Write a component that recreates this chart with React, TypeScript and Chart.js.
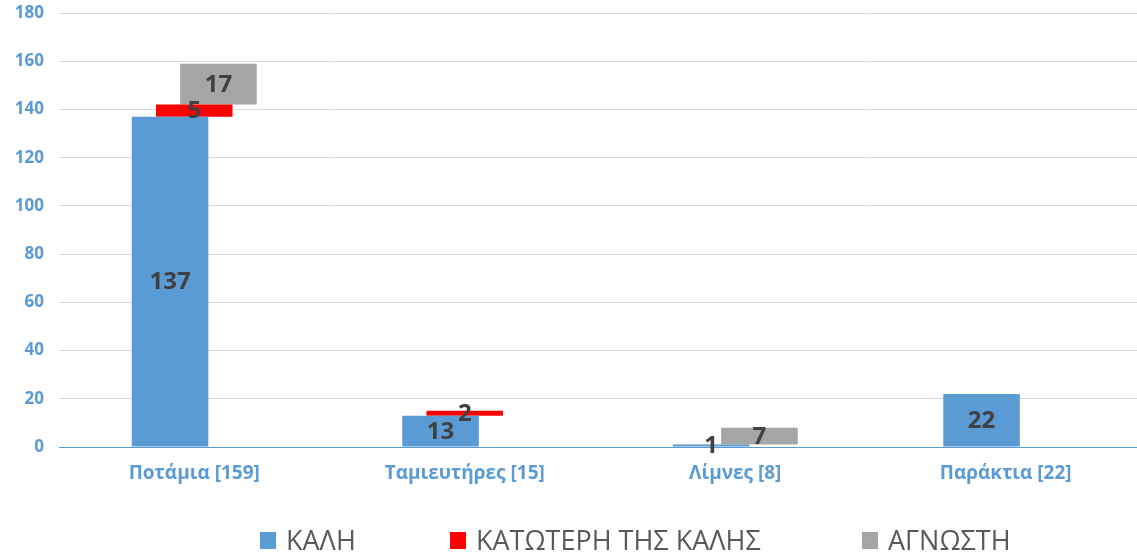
import React, { useEffect, useRef } from "react";
import { Chart, registerables } from "chart.js";

Chart.register(...registerables);

const categories = ["Ποτάμια [159]", "Ταμιευτήρες [15]", "Λίμνες [8]", "Παράκτια [22]"];
const seriesNames = ["ΚΑΛΗ", "ΚΑΤΩΤΕΡΗ ΤΗΣ ΚΑΛΗΣ", "ΑΓΝΩΣΤΗ"];
const kali = [137, 13, 1, 22];
const katoteri = [5, 2, 0, 0];
const agnosti = [17, 0, 7, 0];
const yTicks = [0, 20, 40, 60, 80, 100, 120, 140, 160, 180];

const COLORS = ["#5B9BD5", "#FF0000", "#A5A5A5"];
const FONT = "'Open Sans', 'Noto Sans', sans-serif";

const legendLefts = [260, 450, 862];

export default function App() {
  const ref = useRef<HTMLCanvasElement | null>(null);

  useEffect(() => {
    document.body.style.margin = "0";
    const canvas = ref.current;
    if (!canvas) return;

    const ranges = (starts: number[], vals: number[]) =>
      vals.map((v, i) => (v > 0 ? [starts[i], starts[i] + v] : null));
    const zeros = kali.map(() => 0);
    const redStart = kali.slice();
    const grayStart = kali.map((v, i) => v + katoteri[i]);

    const values = [kali, katoteri, agnosti];

    const labelPlugin = {
      id: "barLabels",
      afterDatasetsDraw(chart: any) {
        const ctx = chart.ctx;
        ctx.save();
        ctx.font = `bold 24px ${FONT}`;
        ctx.fillStyle = "#404040";
        ctx.textAlign = "center";
        ctx.textBaseline = "middle";
        chart.data.datasets.forEach((_ds: any, di: number) => {
          const meta = chart.getDatasetMeta(di);
          meta.data.forEach((bar: any, i: number) => {
            const v = values[di][i];
            if (!v) return;
            const y = (bar.y + bar.base) / 2;
            ctx.fillText(String(v), bar.x, y + 1);
          });
        });
        ctx.restore();
      },
    };

    const chart = new Chart(canvas, {
      type: "bar",
      data: {
        labels: categories,
        datasets: [
          { label: seriesNames[0], data: ranges(zeros, kali) as any, backgroundColor: COLORS[0] },
          { label: seriesNames[1], data: ranges(redStart, katoteri) as any, backgroundColor: COLORS[1] },
          { label: seriesNames[2], data: ranges(grayStart, agnosti) as any, backgroundColor: COLORS[2] },
        ],
      },
      options: {
        responsive: false,
        animation: false,
        layout: { padding: { top: 13, left: 0, right: 0, bottom: 0 } },
        datasets: {
          bar: {
            categoryPercentage: 0.2683,
            barPercentage: 3.165,
            borderSkipped: false,
          },
        },
        plugins: {
          legend: { display: false },
          tooltip: { enabled: false },
        },
        scales: {
          x: {
            grid: { display: false, drawTicks: false },
            border: { color: "#5B9BD5", width: 1 },
            ticks: {
              color: "#5B9BD5",
              font: { family: FONT, size: 19, weight: "bold" },
              padding: 15,
              maxRotation: 0,
              autoSkip: false,
            },
            afterFit(scale: any) {
              scale.height = 112;
            },
          },
          y: {
            min: 0,
            max: 180,
            afterBuildTicks(scale: any) {
              scale.ticks = yTicks.map((v) => ({ value: v }));
            },
            grid: { color: "#D9D9D9", lineWidth: 1, drawTicks: false },
            border: { display: false },
            ticks: {
              color: "#5B9BD5",
              font: { family: FONT, size: 17, weight: "bold" },
              padding: 15,
            },
            afterFit(scale: any) {
              scale.width = 59;
              scale.paddingTop = 0;
              scale.paddingBottom = 0;
            },
          },
        },
      },
      plugins: [labelPlugin],
    });
    return () => chart.destroy();
  }, []);

  return (
    <div style={{ position: "relative", width: 1137, height: 559, overflow: "hidden", background: "#fff" }}>
      <canvas ref={ref} width={1141} height={559} style={{ display: "block" }} />
      {seriesNames.map((name, i) => (
        <div
          key={name}
          style={{
            position: "absolute",
            left: legendLefts[i],
            top: 526,
            height: 28,
            display: "flex",
            alignItems: "center",
            fontFamily: FONT,
            fontSize: 27,
            lineHeight: "28px",
            color: "#595959",
            whiteSpace: "nowrap",
          }}
        >
          <span style={{ display: "inline-block", width: 16, height: 17, background: COLORS[i], marginRight: 10 }} />
          <span>{name}</span>
        </div>
      ))}
    </div>
  );
}
